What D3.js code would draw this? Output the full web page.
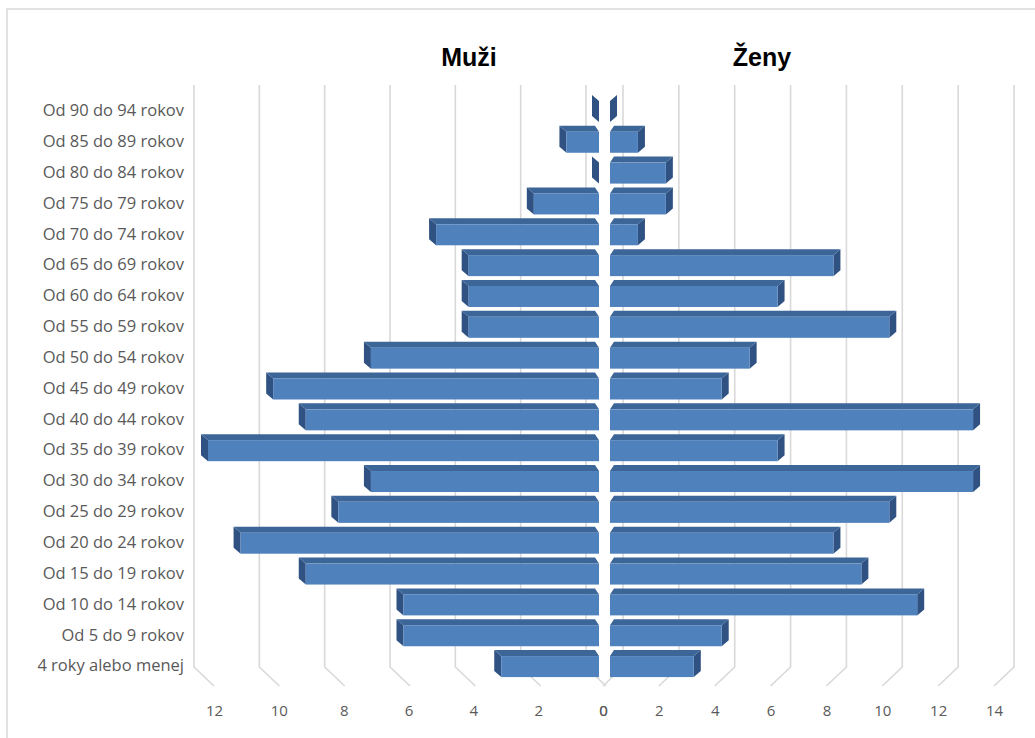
<!DOCTYPE html>
<html>
<head>
<meta charset="utf-8">
<script src="https://cdn.jsdelivr.net/npm/d3@7"></script>
<style>
  body { margin: 0; background: #fff; }
  text { font-family: "Liberation Sans", Arial, sans-serif; }
</style>
</head>
<body>
<script>
// age groups, top to bottom
var categories = ["Od 90 do 94 rokov", "Od 85 do 89 rokov", "Od 80 do 84 rokov", "Od 75 do 79 rokov",
  "Od 70 do 74 rokov", "Od 65 do 69 rokov", "Od 60 do 64 rokov", "Od 55 do 59 rokov",
  "Od 50 do 54 rokov", "Od 45 do 49 rokov", "Od 40 do 44 rokov", "Od 35 do 39 rokov",
  "Od 30 do 34 rokov", "Od 25 do 29 rokov", "Od 20 do 24 rokov", "Od 15 do 19 rokov",
  "Od 10 do 14 rokov", "Od 5 do 9 rokov", "4 roky alebo menej"];
var muzi = [0, 1, 0, 2, 5, 4, 4, 4, 7, 10, 9, 12, 7, 8, 11, 9, 6, 6, 3];
var zeny = [0, 1, 2, 2, 1, 8, 6, 10, 5, 4, 13, 6, 13, 10, 8, 9, 11, 4, 3];
var leftTicks = [12, 10, 8, 6, 4, 2, 0];
var rightTicks = [0, 2, 4, 6, 8, 10, 12, 14];

var W = 1035, H = 738;
var svg = d3.select("body").append("svg").attr("width", W).attr("height", H);

// chart area border (only top and left visible)
svg.append("rect").attr("x", 7).attr("y", 9).attr("width", W + 20).attr("height", H + 20)
  .attr("fill", "none").attr("stroke", "#d9d9d9").attr("stroke-width", 1.5);

// back wall scales (gridlines), bar face scales, front label scales
var leftBack = d3.scaleLinear().domain([0, 12]).range([586, 194]);
var rightBack = d3.scaleLinear().domain([0, 14]).range([623, 1014]);
var leftBar = d3.scaleLinear().domain([0, 12]).range([599, 208]);
var rightBar = d3.scaleLinear().domain([0, 14]).range([610, 1001]);
var leftFront = d3.scaleLinear().domain([0, 12]).range([603, 214]);
var rightFront = d3.scaleLinear().domain([0, 14]).range([603, 994]);

var y = d3.scaleBand().domain(categories).range([95, 681]).padding(0);

var gridTop = 85, gridBottom = 667, floorBottom = 686, depth = 20;

// gridlines with floor feet
var grid = svg.append("g").attr("fill", "none").attr("stroke", "#d9d9d9").attr("stroke-width", 1.6);
grid.selectAll(".gl").data(leftTicks).enter().append("path")
  .attr("d", function(d) {
    var x = leftBack(d);
    return "M" + x + "," + gridTop + "V" + gridBottom + "L" + (x + depth) + "," + floorBottom;
  });
grid.selectAll(".gr").data(rightTicks).enter().append("path")
  .attr("class", "gr")
  .attr("d", function(d) {
    var x = rightBack(d);
    return "M" + x + "," + gridTop + "V" + gridBottom + "L" + (x - depth) + "," + floorBottom;
  });

var cFront = "#4f81bd", cTop = "#3c6598", cSide = "#2f5283";
var dy = 6, dxOut = 7, dxIn = 4;

function drawBars(g, values, scale, dir) {
  // dir = -1 for left (bars grow left), 1 for right
  var bars = g.selectAll("g.bar").data(values).enter().append("g").attr("class", "bar");
  bars.each(function(v, i) {
    var b = d3.select(this);
    var c = y(categories[i]) + y.bandwidth() / 2;
    var y0 = c - 9.5, y1 = c + 11.5;
    var base = scale(0), end = scale(v);
    // side face at outer end
    b.append("path").attr("fill", cSide)
      .attr("d", "M" + end + "," + y0 + "L" + (end + dir * dxOut) + "," + (y0 - dy) +
        "L" + (end + dir * dxOut) + "," + (y1 - dy) + "L" + end + "," + y1 + "Z");
    if (v > 0) {
      // top face
      b.append("path").attr("fill", cTop)
        .attr("d", "M" + base + "," + y0 + "L" + (base + dir * dxIn) + "," + (y0 - dy) +
          "L" + (end + dir * dxOut) + "," + (y0 - dy) + "L" + end + "," + y0 + "Z");
      // front face
      b.append("rect").attr("fill", cFront)
        .attr("x", Math.min(base, end)).attr("y", y0)
        .attr("width", Math.abs(end - base)).attr("height", y1 - y0);
    }
  });
}

drawBars(svg.append("g"), muzi, leftBar, -1);
drawBars(svg.append("g"), zeny, rightBar, 1);

// category labels
svg.append("g").selectAll("text").data(categories).enter().append("text")
  .attr("x", 184).attr("y", function(d) { return y(d) + y.bandwidth() / 2; })
  .attr("dy", "0.35em").attr("text-anchor", "end")
  .attr("fill", "#595959").style("font-size", "16.5px")
  .style("font-family", "'Open Sans', sans-serif")
  .text(function(d) { return d; });

// value axes (labels only)
var axL = svg.append("g").attr("transform", "translate(0,705)")
  .call(d3.axisBottom(leftFront).tickValues(leftTicks).tickSize(0).tickPadding(0));
var axR = svg.append("g").attr("transform", "translate(0,705)")
  .call(d3.axisBottom(rightFront).tickValues(rightTicks).tickSize(0).tickPadding(0));
[axL, axR].forEach(function(a) {
  a.select(".domain").remove();
  a.selectAll("text").attr("fill", "#595959").style("font-size", "15px")
    .style("font-family", "'Open Sans', sans-serif");
});

// panel titles
svg.append("text").attr("x", 469).attr("y", 66).attr("text-anchor", "middle")
  .style("font-size", "25px").style("font-weight", "bold").attr("fill", "#000").text("Muži");
svg.append("text").attr("x", 762).attr("y", 66).attr("text-anchor", "middle")
  .style("font-size", "25px").style("font-weight", "bold").attr("fill", "#000").text("Ženy");
</script>
</body>
</html>
